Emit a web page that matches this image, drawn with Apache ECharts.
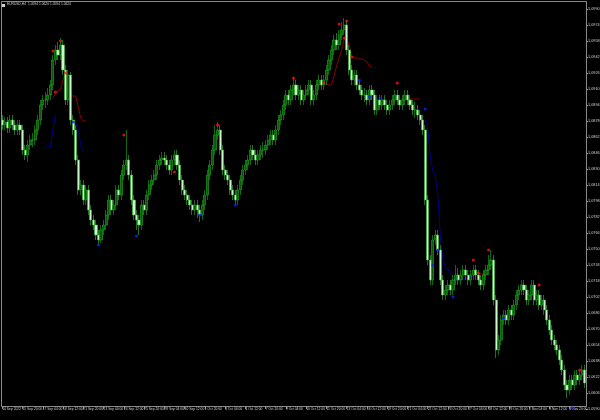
<!DOCTYPE html>
<html><head><meta charset="utf-8">
<script src="https://cdn.jsdelivr.net/npm/echarts@6/dist/echarts.min.js"></script>
<style>html,body{margin:0;padding:0;background:#000}#c{width:600px;height:420px}</style>
</head><body><div id="c"></div><script>
const chartTitle = 'EURUSD,H4  1.0594 1.0620 1.0594 1.0620';
const timeLabels = ['14 Sep 2022','15 Sep 20:00','17 Sep 04:00','18 Sep 12:00','21 Sep 20:00','23 Sep 04:00','24 Sep 12:00','25 Sep 20:00','28 Sep 04:00','30 Sep 12:00','1 Oct 20:00','3 Oct 04:00','4 Oct 12:00','7 Oct 20:00','9 Oct 04:00','10 Oct 12:00','11 Oct 20:00','13 Oct 04:00','16 Oct 12:00','19 Oct 20:00','21 Oct 04:00','22 Oct 12:00','23 Oct 20:00','27 Oct 04:00','28 Oct 12:00','29 Oct 20:00','2 Nov 04:00','3 Nov 12:00','4 Nov 20:00'];
// prices in points (1 point = 0.0001)
const priceTicks = [10590,10606,10622,10638,10654,10670,10686,10702,10718,10734,10750,10766,10782,10798,10814,10830,10846,10862,10878,10894,10910,10926,10942,10958,10974,10990];
const closes = [10874,10877,10871,10879,10874,10869,10874,10869,10849,10844,10854,10859,10859,10869,10879,10894,10899,10899,10904,10914,10939,10949,10944,10954,10929,10899,10924,10879,10869,10839,10809,10814,10799,10809,10789,10779,10774,10764,10759,10769,10774,10784,10799,10789,10794,10809,10804,10824,10834,10839,10824,10799,10784,10779,10774,10794,10789,10804,10814,10819,10824,10834,10839,10841,10839,10834,10829,10839,10844,10834,10819,10809,10804,10799,10794,10789,10794,10789,10784,10794,10804,10824,10834,10849,10864,10869,10849,10829,10824,10819,10809,10804,10799,10809,10819,10829,10834,10839,10849,10844,10839,10844,10849,10849,10854,10859,10864,10859,10869,10879,10884,10894,10904,10899,10909,10914,10904,10909,10899,10904,10909,10914,10899,10904,10914,10919,10914,10919,10929,10939,10949,10959,10954,10964,10969,10974,10949,10929,10919,10924,10914,10909,10904,10904,10899,10909,10904,10889,10899,10894,10899,10894,10889,10894,10899,10904,10899,10894,10899,10904,10899,10894,10889,10889,10884,10879,10869,10799,10739,10719,10759,10764,10749,10719,10704,10709,10714,10709,10719,10724,10719,10724,10729,10724,10719,10724,10729,10724,10719,10714,10724,10729,10734,10739,10699,10649,10659,10679,10684,10679,10689,10684,10694,10704,10709,10714,10709,10699,10704,10714,10699,10704,10694,10699,10689,10679,10669,10659,10654,10649,10639,10629,10614,10609,10619,10614,10624,10619,10624,10629,10616];
const opens = [10879,10874,10877,10871,10879,10874,10869,10874,10869,10849,10844,10854,10859,10859,10869,10879,10894,10899,10899,10904,10914,10939,10949,10944,10954,10929,10899,10924,10879,10869,10839,10809,10814,10799,10809,10789,10779,10774,10764,10759,10769,10774,10784,10799,10789,10794,10809,10804,10824,10834,10839,10824,10799,10784,10779,10774,10794,10789,10804,10814,10819,10824,10834,10839,10841,10839,10834,10829,10839,10844,10834,10819,10809,10804,10799,10794,10789,10794,10789,10784,10794,10804,10824,10834,10849,10864,10869,10849,10829,10824,10819,10809,10804,10799,10809,10819,10829,10834,10839,10849,10844,10839,10844,10849,10849,10854,10859,10864,10859,10869,10879,10884,10894,10904,10899,10909,10914,10904,10909,10899,10904,10909,10914,10899,10904,10914,10919,10914,10919,10929,10939,10949,10959,10954,10964,10969,10974,10949,10929,10919,10924,10914,10909,10904,10904,10899,10909,10904,10889,10899,10894,10899,10894,10889,10894,10899,10904,10899,10894,10899,10904,10899,10894,10889,10889,10884,10879,10869,10799,10739,10719,10759,10764,10749,10719,10704,10709,10714,10709,10719,10724,10719,10724,10729,10724,10719,10724,10729,10724,10719,10714,10724,10729,10734,10739,10699,10649,10659,10679,10684,10679,10689,10684,10694,10704,10709,10714,10709,10699,10704,10714,10699,10704,10694,10699,10689,10679,10669,10659,10654,10649,10639,10629,10614,10609,10619,10614,10624,10619,10624,10629];
const lows = [10869,10869,10866,10866,10869,10864,10864,10864,10844,10839,10837,10849,10852,10854,10864,10874,10889,10891,10894,10899,10909,10934,10939,10939,10924,10894,10894,10874,10864,10834,10804,10804,10794,10794,10784,10774,10769,10759,10754,10756,10764,10769,10779,10784,10784,10789,10799,10799,10819,10829,10819,10794,10779,10769,10764,10769,10784,10784,10799,10809,10814,10819,10829,10834,10834,10829,10824,10824,10834,10829,10814,10804,10799,10794,10789,10784,10784,10781,10777,10779,10789,10799,10819,10829,10844,10859,10844,10824,10819,10814,10804,10799,10794,10794,10804,10814,10824,10829,10834,10839,10834,10834,10839,10841,10844,10849,10854,10854,10854,10864,10874,10879,10889,10894,10894,10904,10899,10899,10894,10894,10899,10904,10894,10894,10899,10909,10909,10909,10914,10924,10934,10944,10949,10949,10959,10964,10944,10924,10914,10914,10909,10904,10899,10897,10894,10894,10899,10884,10884,10889,10889,10889,10884,10884,10889,10894,10894,10889,10889,10894,10894,10889,10884,10881,10879,10874,10864,10794,10734,10714,10714,10754,10744,10714,10699,10699,10704,10704,10704,10714,10714,10714,10719,10719,10714,10714,10719,10719,10714,10709,10709,10719,10724,10729,10694,10641,10644,10654,10674,10674,10674,10679,10679,10689,10699,10704,10704,10694,10694,10699,10694,10694,10689,10689,10684,10674,10664,10654,10649,10644,10634,10624,10609,10601,10604,10609,10609,10614,10614,10619,10611];
const highs = [10884,10882,10882,10884,10884,10879,10879,10879,10874,10854,10859,10864,10866,10874,10884,10899,10904,10907,10911,10919,10944,10954,10957,10961,10959,10934,10929,10927,10884,10874,10844,10819,10819,10814,10814,10794,10784,10779,10769,10774,10779,10789,10804,10804,10799,10814,10814,10829,10839,10869,10844,10829,10804,10789,10784,10799,10799,10809,10819,10824,10829,10839,10844,10847,10847,10844,10839,10844,10849,10849,10839,10824,10814,10809,10804,10799,10799,10799,10794,10799,10809,10829,10839,10854,10874,10877,10874,10854,10834,10829,10824,10814,10809,10814,10824,10834,10839,10844,10854,10854,10849,10849,10854,10857,10859,10864,10869,10869,10874,10884,10889,10899,10909,10909,10914,10921,10919,10914,10914,10909,10914,10919,10919,10909,10919,10924,10924,10924,10934,10944,10954,10964,10966,10969,10977,10981,10979,10954,10934,10929,10929,10919,10914,10911,10909,10914,10914,10909,10904,10904,10904,10904,10899,10899,10904,10909,10909,10904,10904,10909,10909,10904,10899,10897,10894,10889,10884,10874,10804,10744,10764,10769,10769,10754,10724,10714,10719,10719,10724,10734,10731,10729,10734,10734,10729,10729,10734,10734,10729,10724,10729,10734,10744,10749,10744,10704,10664,10684,10689,10689,10694,10694,10699,10709,10714,10719,10719,10714,10709,10719,10719,10709,10709,10704,10704,10694,10684,10674,10664,10659,10654,10644,10634,10619,10624,10624,10629,10629,10629,10634,10634];
const upFractalBars = [20,21,23,25,48,68,85,115,127,133,135,136,138,156,186,188,192,212,228];
const upFractalPoints = [10948,10907,10958,10926,10864,10827,10874,10921,10916,10975,10961,10978,10942,10916,10739,10726,10749,10714,10629];
const downFractalBars = [28,38,53,78,92,141,145,167,170,172,178,198,225];
const downFractalPoints = [10877,10754,10763,10784,10794,10919,10902,10890,10734,10749,10702,10681,10591];
const redLineBars = [20,21,22,23,24,25,26,27,28,29,30,31,32,33, null, 126,127,128,129,130,131,132,133,134,135,136,137,138,139,140,141,142,143,144,145,146, null, 161,162,163,164,165, null, 188,189,190,191];
const redLinePoints = [10901,10906,10908,10910,10919,10926,10904,10903,10903,10903,10892,10881,10878,10878, null, 10915,10915,10915,10914,10914,10923,10933,10941,10949,10960,10960,10954,10943,10941,10941,10940,10940,10939,10937,10933,10932, null, 10900,10900,10900,10900,10900, null, 10726,10725,10725,10726];
const blueLineBars = [17,18,19,20,21, null, 28,29,30,31,32, null, 141,142,143,144,145,146,147,148,149,150,151,152, null, 167,168,169,170,171,172,173,174,175,176,177,178,179,180,181,182,183,184,185,186,187,188];
const blueLinePoints = [10852,10852,10852,10869,10884, null, 10877,10876,10869,10854,10847, null, 10915,10912,10909,10906,10902,10901,10901,10901,10901,10901,10896,10892, null, 10879,10872,10842,10829,10822,10804,10762,10739,10732,10729,10726,10722,10719,10719,10719,10720,10721,10722,10722,10723,10724,10724];

const P = v => v / 10000;
const cats = closes.map((_, i) => String(i));
const candleData = closes.map((c, i) => [P(opens[i]), P(c), P(lows[i]), P(highs[i])]);
function points(bars, pts) { return bars.map((b, k) => b === null ? [null, null] : [String(b), P(pts[k])]); }

const chart = echarts.init(document.getElementById('c'), null, {renderer: 'canvas'});
const fnt = 'Liberation Sans';
chart.setOption({
  backgroundColor: '#000',
  animation: false,
  grid: {left: 1, right: 14, top: 1, bottom: 11, outerBoundsMode: 'none'},
  xAxis: {
    type: 'category', data: cats, boundaryGap: true, offset: -3,
    axisLine: {show: false},
    axisTick: {show: true, interval: 7, alignWithLabel: true, length: 3, lineStyle: {color: '#909090'}},
    axisLabel: {interval: 7, margin: 2, align: 'left', fontSize: 3.3, fontFamily: fnt, color: '#d0d0d0',
      formatter: (v, i) => timeLabels[Math.round(i / 8)] || ''},
    splitLine: {show: false}
  },
  yAxis: {
    type: 'value', position: 'right', min: P(10590), max: P(10998), scale: true,
    axisLine: {show: false},
    axisTick: {show: true, length: 2, customValues: priceTicks.map(P), lineStyle: {color: '#909090'}},
    axisLabel: {margin: 2, fontSize: 3.8, fontFamily: fnt, color: '#d0d0d0', customValues: priceTicks.map(P),
      formatter: v => v.toFixed(4)},
    splitLine: {show: false}
  },
  graphic: [
    {type: 'rect', silent: true, shape: {x: 1.5, y: 1.5, width: 585, height: 405}, style: {fill: null, stroke: '#8a8a8a', lineWidth: 1}},
    {type: 'rect', silent: true, shape: {x: 2, y: 4, width: 3, height: 3}, style: {fill: '#d0d0d0'}},
    {type: 'text', silent: true, left: 7, top: 3, style: {text: chartTitle, fontSize: 3.3, fontFamily: fnt, fill: '#d0d0d0'}}
  ],
  series: [
    {type: 'line', data: points(redLineBars, redLinePoints), showSymbol: false, connectNulls: false, z: 1,
      lineStyle: {color: '#8b0000', width: 1}},
    {type: 'line', data: points(blueLineBars, blueLinePoints), showSymbol: false, connectNulls: false, z: 1,
      lineStyle: {color: '#00008b', width: 1}},
    {type: 'candlestick', data: candleData, barWidth: 2.6, z: 2,
      itemStyle: {color: '#0a5a0a', color0: '#c8f8c8', borderColor: '#1eaa1e', borderColor0: '#3cb83c', borderWidth: 0.6}},
    {type: 'scatter', data: points(upFractalBars, upFractalPoints), symbolSize: 3, z: 3, itemStyle: {color: '#ff1010'}},
    {type: 'scatter', data: points(downFractalBars, downFractalPoints), symbolSize: 3, z: 3, itemStyle: {color: '#1020ff'}}
  ]
});
</script></body></html>
